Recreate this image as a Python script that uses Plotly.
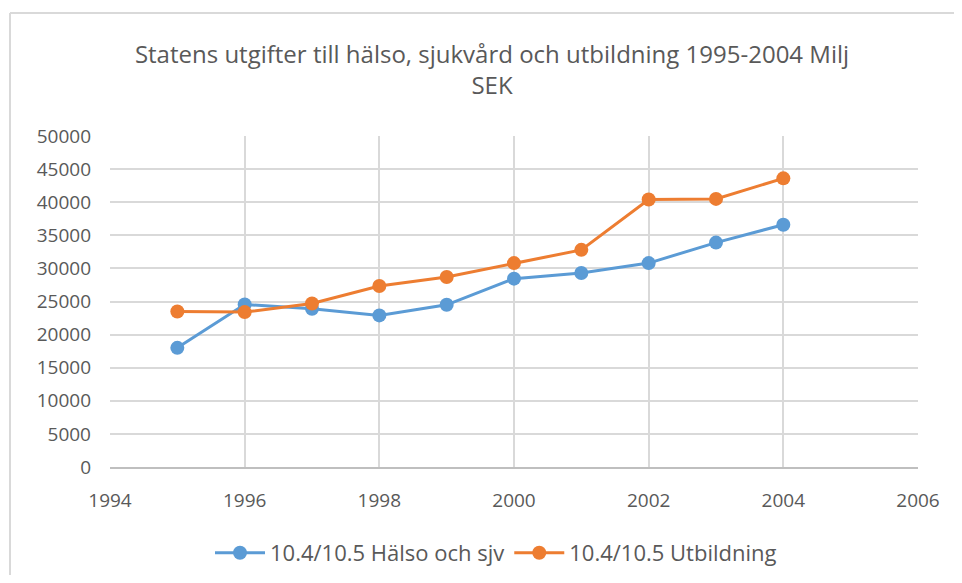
import plotly.graph_objects as go

years = [1995, 1996, 1997, 1998, 1999, 2000, 2001, 2002, 2003, 2004]
halso = [18000, 24550, 23900, 22900, 24500, 28450, 29300, 30800, 33900, 36600]
utbildning = [23500, 23400, 24700, 27350, 28700, 30800, 32800, 40400, 40500, 43600]

# page has an 8px body margin, so the figure is drawn 8px in from the window edge
OFF = 8
W, H = 962 - 2 * OFF, 583 - 2 * OFF
L, T = 110 - OFF, 136 - OFF
R, B = W - (918 - OFF), H - (467 - OFF)
pw, ph = W - L - R, H - T - B

fig = go.Figure()
fig.add_trace(go.Scatter(x=years, y=halso, name="10.4/10.5 Hälso och sjv",
                         mode="lines+markers", line=dict(color="#5B9BD5", width=3),
                         marker=dict(size=14, color="#5B9BD5")))
fig.add_trace(go.Scatter(x=years, y=utbildning, name="10.4/10.5 Utbildning",
                         mode="lines+markers", line=dict(color="#ED7D31", width=3),
                         marker=dict(size=14, color="#ED7D31")))

grey = "#595959"
fig.update_layout(
    width=W, height=H,
    margin=dict(l=L, r=R, t=T, b=B, autoexpand=False),
    paper_bgcolor="white", plot_bgcolor="white",
    font=dict(family="Open Sans, Liberation Sans, sans-serif", color=grey, size=18),
    title=dict(text="Statens utgifter till hälso, sjukvård och utbildning 1995-2004 Milj<br>SEK",
               x=(492 - OFF) / W, xanchor="center", y=1 - (63 - OFF) / H, yanchor="top",
               font=dict(size=24, color=grey)),
    showlegend=True,
    legend=dict(orientation="h", x=(496 - OFF - L) / pw, xanchor="center",
                y=-(553 - 467) / ph, yanchor="middle",
                font=dict(size=22, color=grey), itemwidth=50),
    xaxis=dict(range=[1994, 2006], tickmode="linear", tick0=1994, dtick=2,
               showgrid=True, gridcolor="#D9D9D9", gridwidth=2,
               showline=True, linecolor="#BFBFBF", linewidth=2, mirror=False,
               zeroline=False, ticks="", tickformat="d", ticklabelstandoff=15,
               automargin=False, tickfont=dict(size=19, color=grey)),
    yaxis=dict(range=[0, 50000], tickmode="linear", tick0=0, dtick=5000,
               showgrid=True, gridcolor="#D9D9D9", gridwidth=2,
               showline=False, zeroline=False, ticks="", tickformat="d",
               ticklabelstandoff=18, automargin=False, tickfont=dict(size=19, color=grey)),
)

# chart-area frame (only top and left edges are visible in the window)
fx0 = (10 - OFF - L) / pw
fy1 = 1 + (T - (13 - OFF)) / ph
fig.add_shape(type="line", xref="paper", yref="paper", x0=fx0, x1=(W - L) / pw, y0=fy1, y1=fy1,
              line=dict(color="#D9D9D9", width=2), layer="below")
fig.add_shape(type="line", xref="paper", yref="paper", x0=fx0, x1=fx0, y0=-B / ph, y1=fy1,
              line=dict(color="#D9D9D9", width=2), layer="below")

fig.write_html("out.html")
